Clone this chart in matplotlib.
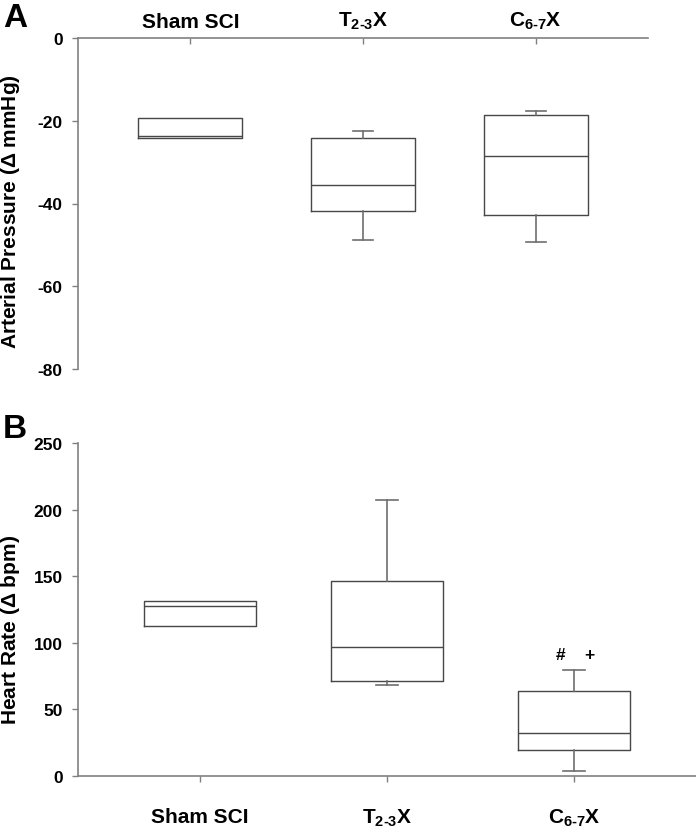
import matplotlib
matplotlib.use("Agg")
import matplotlib.pyplot as plt

plt.rcParams['font.family'] = ['Liberation Sans', 'DejaVu Sans']
plt.rcParams['font.weight'] = 'bold'
plt.rcParams['mathtext.fontset'] = 'custom'
plt.rcParams['mathtext.rm'] = 'Liberation Sans'
plt.rcParams['mathtext.bf'] = 'Liberation Sans:bold'
plt.rcParams['mathtext.it'] = 'Liberation Sans:bold'

categories = ["Sham SCI", "T$_{\\mathbf{2\u20103}}$X", "C$_{\\mathbf{6\u20107}}$X"]

# Panel A: arterial pressure (delta mmHg) box statistics
ap_whislo = [-24.2, -48.8, -49.4]
ap_q1     = [-24.2, -41.9, -42.8]
ap_med    = [-23.7, -35.5, -28.4]
ap_q3     = [-19.3, -24.2, -18.7]
ap_whishi = [-19.3, -22.5, -17.6]

# Panel B: heart rate (delta bpm) box statistics
hr_whislo = [113.0, 68.4, 3.5]
hr_q1     = [113.0, 71.2, 19.8]
hr_med    = [127.8, 97.3, 32.1]
hr_q3     = [131.6, 146.9, 63.5]
hr_whishi = [131.6, 207.5, 79.5]

ap_ticks = [0, -20, -40, -60, -80]
hr_ticks = [0, 50, 100, 150, 200, 250]

AXC = '#808080'
BOXC = '#474747'
WHC = '#6e6e6e'

fig = plt.figure(figsize=(6.96, 8.37), dpi=100)

def stats(lo, q1, med, q3, hi):
    return [dict(whislo=a, q1=b, med=c, q3=d, whishi=e, fliers=[])
            for a, b, c, d, e in zip(lo, q1, med, q3, hi)]

def draw(ax, st):
    ax.bxp(st, positions=[1, 2, 3], widths=0.6, showfliers=False,
           capwidths=[0.0, 0.116, 0.116],
           boxprops=dict(color=BOXC, linewidth=1.0),
           medianprops=dict(color=BOXC, linewidth=1.0),
           whiskerprops=dict(color=WHC, linewidth=1.2),
           capprops=dict(color=WHC, linewidth=1.2))
    ax.set_xlim(0.35, 3.65)

# ---- Panel A
axA = fig.add_axes([78/696, 1-370/837, 570/696, 331/837])
draw(axA, stats(ap_whislo, ap_q1, ap_med, ap_q3, ap_whishi))
axA.set_ylim(-80, 0)
axA.set_yticks(ap_ticks)
axA.set_yticklabels([str(t) for t in ap_ticks])
axA.spines['right'].set_visible(False)
axA.spines['bottom'].set_visible(False)
for s in ['top', 'left']:
    axA.spines[s].set_color(AXC)
    axA.spines[s].set_linewidth(1.2)
axA.xaxis.set_ticks_position('top')
axA.set_xticks([1, 2, 3])
axA.set_xticklabels(categories, fontsize=15, fontweight='bold')
axA.tick_params(axis='x', direction='in', length=4, width=1, color=AXC, pad=5)
axA.tick_params(axis='y', direction='out', length=4, width=1, color=AXC,
                pad=7, labelsize=12.5)
axA.set_ylabel("Arterial Pressure ($\\mathrm{\\Delta}$ mmHg)", fontsize=15,
               fontweight='bold')
axA.yaxis.set_label_coords(-0.098, 0.477)
fig.text(3/696, 1-27/837, "A", fontsize=24, fontweight='bold', ha='left', va='baseline')

# ---- Panel B
axB = fig.add_axes([78/696, 1-777/837, 618/696, 332.7/837])
draw(axB, stats(hr_whislo, hr_q1, hr_med, hr_q3, hr_whishi))
axB.set_ylim(0, 250)
axB.set_yticks(hr_ticks)
axB.set_yticklabels([str(t) for t in hr_ticks])
axB.spines['right'].set_visible(False)
axB.spines['top'].set_visible(False)
for s in ['bottom', 'left']:
    axB.spines[s].set_color(AXC)
    axB.spines[s].set_linewidth(1.2)
axB.set_xticks([1, 2, 3])
axB.set_xticklabels(categories, fontsize=15, fontweight='bold')
axB.tick_params(axis='x', direction='out', length=4, width=1, color=AXC, pad=18)
axB.tick_params(axis='y', direction='out', length=4, width=1, color=AXC,
                pad=7, labelsize=12.5)
axB.set_ylabel("Heart Rate ($\\mathrm{\\Delta}$ bpm)", fontsize=15, fontweight='bold')
axB.yaxis.set_label_coords(-0.0906, 0.442)
axB.text(2.925, 91.5, "#", fontsize=12.5, fontweight='bold', ha='center', va='center')
axB.text(3.08, 91.5, "+", fontsize=12.5, fontweight='bold', ha='center', va='center')
fig.text(3/696, 1-438/837, "B", fontsize=24, fontweight='bold', ha='left', va='baseline')

fig.savefig("out.png", dpi=100, facecolor='white')
